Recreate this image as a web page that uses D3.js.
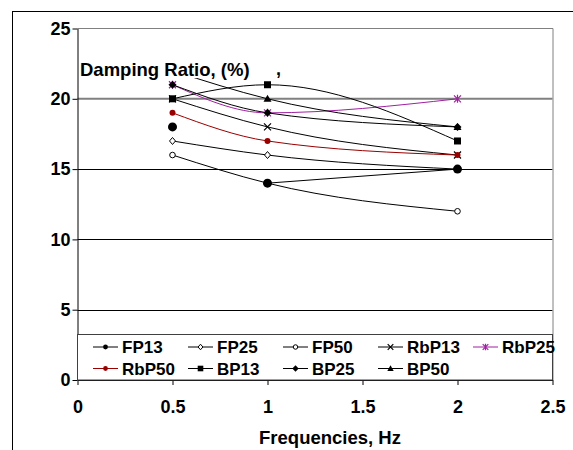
<!DOCTYPE html>
<html><head><meta charset="utf-8">
<script src="https://cdn.jsdelivr.net/npm/d3@7"></script>
<style>body{margin:0;background:#fff}svg{display:block;font-family:Arial,"Liberation Sans",sans-serif;font-weight:bold}</style>
</head><body><svg id="c" width="573" height="450"></svg>
<script>
const frequencies = [0.5, 1, 2];
const xTicks = [0, 0.5, 1, 1.5, 2, 2.5];
const yTicks = [0, 5, 10, 15, 20, 25];
const seriesNames = ["FP13","FP25","FP50","RbP13","RbP25","RbP50","BP13","BP25","BP50"];
const fp13 = [18, 14, 15];
const fp25 = [17, 16, 15];
const fp50 = [16, 14, 12];
const rbp13 = [20, 18, 16];
const rbp25 = [21, 19, 20];
const rbp50 = [19, 17, 16];
const bp13 = [20, 21, 17];
const bp25 = [21, 19, 18];
const bp50 = [22, 20, 18];
const fp13LineFrom = 1; // FP13 first point is not joined to the line

const svg = d3.select("#c");
const L = 77.5, R = 552.5, T = 28.5, B = 380;
const x = d3.scaleLinear().domain([0, 2.5]).range([L, R]);
const y = d3.scaleLinear().domain([0, 25]).range([B, T]);

// outer frame
svg.append("rect").attr("x",12.5).attr("y",11.5).attr("width",700).attr("height",600)
  .attr("fill","none").attr("stroke","#000");

// gridlines
[5,10,15].forEach(v=>{
  svg.append("line").attr("x1",L).attr("x2",R).attr("y1",Math.round(y(v))+0.5).attr("y2",Math.round(y(v))+0.5)
    .attr("stroke","#000").attr("stroke-width",1);
});
svg.append("line").attr("x1",L).attr("x2",R).attr("y1",y(20)).attr("y2",y(20))
  .attr("stroke","#808080").attr("stroke-width",2);
// plot border top & right
svg.append("path").attr("d",`M${L},${T}H${R+0.5}V${B}`).attr("fill","none").attr("stroke","#808080");

// axes
const yAxis = svg.append("g").attr("transform",`translate(${L},0)`)
  .call(d3.axisLeft(y).tickValues(yTicks).tickSize(5).tickSizeOuter(0).tickFormat(d3.format("d")));
const xAxis = svg.append("g").attr("transform",`translate(0,${B})`)
  .call(d3.axisBottom(x).tickValues(xTicks).tickSize(5).tickSizeOuter(0).tickFormat(d=>String(d)));
[yAxis,xAxis].forEach(g=>{
  g.select(".domain").attr("stroke","#000");
  g.selectAll(".tick line").attr("stroke","#000");
  g.selectAll("text").attr("fill","#000").style("font-size","18px").style("font-weight","bold")
   .style("font-family","Arial, 'Liberation Sans', sans-serif");
});
yAxis.selectAll("text").attr("x",-7);
xAxis.selectAll("text").attr("y",20);

// series
const purple = "#a020a0", red = "#990000";
const series = [
  {name:"FP13", vals:fp13, color:"#000", mk:"bigcircle", from:fp13LineFrom, top:true},
  {name:"FP25", vals:fp25, color:"#000", mk:"odiamond"},
  {name:"FP50", vals:fp50, color:"#000", mk:"ocircle"},
  {name:"RbP13", vals:rbp13, color:"#000", mk:"x"},
  {name:"RbP25", vals:rbp25, color:purple, mk:"star"},
  {name:"RbP50", vals:rbp50, color:red, mk:"circle"},
  {name:"BP13", vals:bp13, color:"#000", mk:"square"},
  {name:"BP25", vals:bp25, color:"#000", mk:"diamond"},
  {name:"BP50", vals:bp50, color:"#000", mk:"triangle"}
];

function marker(g, type, cx, cy, color, s){
  s = s || 1;
  if(type==="bigcircle") g.append("circle").attr("cx",cx).attr("cy",cy).attr("r",4.5*s).attr("fill",color);
  else if(type==="circle") g.append("circle").attr("cx",cx).attr("cy",cy).attr("r",3*s).attr("fill",color);
  else if(type==="ocircle") g.append("circle").attr("cx",cx).attr("cy",cy).attr("r",2.8*s).attr("fill","#fff").attr("stroke",color);
  else if(type==="square") g.append("rect").attr("x",cx-3.5*s).attr("y",cy-3.5*s).attr("width",7*s).attr("height",7*s).attr("fill",color);
  else if(type==="diamond") g.append("path").attr("d",`M${cx},${cy-4*s}L${cx+4*s},${cy}L${cx},${cy+4*s}L${cx-4*s},${cy}Z`).attr("fill",color);
  else if(type==="odiamond") g.append("path").attr("d",`M${cx},${cy-3.5*s}L${cx+3*s},${cy}L${cx},${cy+3.5*s}L${cx-3*s},${cy}Z`).attr("fill","#fff").attr("stroke",color);
  else if(type==="triangle") g.append("path").attr("d",`M${cx},${cy-4*s}L${cx+4*s},${cy+3*s}L${cx-4*s},${cy+3*s}Z`).attr("fill",color);
  else if(type==="x") g.append("path").attr("d",`M${cx-3.5*s},${cy-3.5*s}L${cx+3.5*s},${cy+3.5*s}M${cx+3.5*s},${cy-3.5*s}L${cx-3.5*s},${cy+3.5*s}`).attr("stroke",color).attr("stroke-width",1.2);
  else if(type==="star") g.append("path").attr("d",`M${cx-3.5*s},${cy-3.5*s}L${cx+3.5*s},${cy+3.5*s}M${cx+3.5*s},${cy-3.5*s}L${cx-3.5*s},${cy+3.5*s}M${cx},${cy-4*s}V${cy+4*s}`).attr("stroke",color).attr("stroke-width",1.2);
}

const line = d3.line().x(d=>x(d[0])).y(d=>y(d[1])).curve(d3.curveMonotoneX);
const plot = svg.append("g");
const linesG = plot.append("g"), marksG = plot.append("g"), topG = plot.append("g");
series.forEach(s=>{
  const pts = frequencies.map((f,i)=>[f,s.vals[i]]).slice(s.from||0);
  linesG.append("path").attr("d",line(pts)).attr("fill","none").attr("stroke",s.color).attr("stroke-width",1);
  const g = (s.top ? topG : marksG).append("g");
  frequencies.forEach((f,i)=>marker(g, s.mk, x(f), y(s.vals[i]), s.color));
});

// title with white backing
const titleBg = svg.append("rect").attr("fill","#fff");
const title = svg.append("text").attr("x",80).attr("y",76).text("Damping Ratio, (%)")
  .style("font-size","18.5px").attr("fill","#000");
const bb = title.node().getBBox();
titleBg.attr("x",bb.x).attr("y",bb.y+3).attr("width",bb.width).attr("height",bb.height-5);
svg.append("text").attr("x",276).attr("y",75).text(",").style("font-size","18px").attr("fill","#000");

// legend
const lg = svg.append("g");
lg.append("rect").attr("x",L).attr("y",334.5).attr("width",R-L).attr("height",B-334.5)
  .attr("fill","#fff").attr("stroke","#404040");
series.forEach((s,i)=>{
  const col = i%5, row = Math.floor(i/5);
  const lx = 93 + col*95, ly = 347 + row*21.5;
  const g = lg.append("g");
  g.append("line").attr("x1",lx).attr("x2",lx+25).attr("y1",ly).attr("y2",ly).attr("stroke",s.color);
  marker(g, s.mk==="bigcircle"?"circle":s.mk, lx+12.5, ly, s.color, 0.8);
  g.append("text").attr("x",lx+29).attr("y",ly+6).text(s.name).style("font-size","17px").attr("fill","#000");
});

// axis title
svg.append("text").attr("x",330).attr("y",444).attr("text-anchor","middle").text("Frequencies, Hz")
  .style("font-size","18.5px").attr("fill","#000");
</script></body></html>
